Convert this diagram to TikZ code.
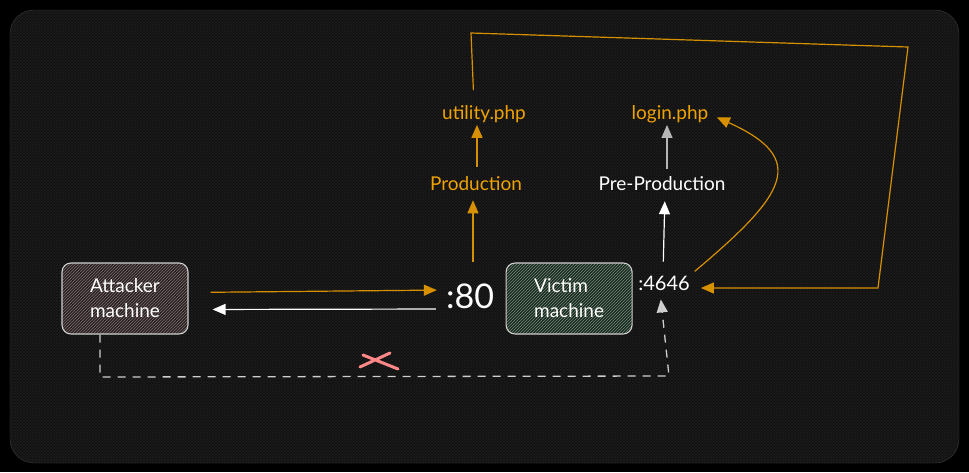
\documentclass[tikz,border=0pt]{standalone}
\usepackage{fontspec}
\setmainfont{Lato}
\usetikzlibrary{positioning,arrows.meta,patterns}
\definecolor{bgdark}{HTML}{111111}
\definecolor{bghatch}{HTML}{1C1C1C}
\definecolor{panelline}{HTML}{3A3A3A}
\definecolor{amber}{RGB}{240,162,0}
\definecolor{amberline}{RGB}{215,145,0}
\definecolor{boxline}{HTML}{CFCFCF}
\definecolor{softgrey}{HTML}{B5B5B5}
\definecolor{redx}{HTML}{FF8787}
\definecolor{attfill}{HTML}{2B2424}
\definecolor{atthatch}{HTML}{7A6A6A}
\definecolor{vicfill}{HTML}{1E2A22}
\definecolor{vichatch}{HTML}{6B8A74}

\begin{document}
\begin{tikzpicture}[x=1pt, y=-1pt, node distance=10pt]
  \tikzset{
    machine/.style={draw=boxline, line width=1.1pt, rounded corners=9pt, minimum width=126pt, minimum height=71pt, align=left, text=white, font=\fontsize{19}{25}\selectfont},
    attbox/.style={preaction={fill=attfill}, pattern=north east lines, pattern color=atthatch},
    vicbox/.style={preaction={fill=vicfill}, pattern=north east lines, pattern color=vichatch},
    port/.style={text=white, inner sep=1pt},
    page/.style={text=amber, font=\fontsize{19}{22}\selectfont, inner sep=1pt},
    amberarrow/.style={draw=amberline, line width=1.2pt, -{Triangle[length=13pt,width=11pt]}},
    whitearrow/.style={draw=white, line width=1.2pt, -{Triangle[length=13pt,width=11pt]}},
    dashline/.style={draw=boxline, line width=1.3pt, dash pattern=on 8pt off 7pt, -{Triangle[length=13pt,width=11pt]}}
  }

  \useasboundingbox (0,0) rectangle (969,472);
  \fill[black] (0,0) rectangle (969,472);
  \draw[panelline, rounded corners=24pt, preaction={fill=bgdark}, preaction={pattern=north east lines, pattern color=bghatch}, pattern=north west lines, pattern color=bghatch] (10,10) rectangle (959,463);

  \node[machine, attbox] (attacker) at (125,298.5) {Attacker\\machine};
  \node[machine, vicbox, right=317pt of attacker] (victim) {Victim\\machine};
  \node[port, font=\fontsize{34}{34}\selectfont] (port80) at (470,296) {:80};
  \node[port, font=\fontsize{20}{20}\selectfont] (port4646) at (664,283) {:4646};
  \node[page] (prod) at (476,184) {Production};
  \node[page, text=white] (preprod) at (662,184) {Pre-Production};
  \node[page] (utility) at (484,114) {utility.php};
  \node[page] (login) at (670,114) {login.php};

  \coordinate (loopA) at (471,33);
  \coordinate (loopB) at (908,47);
  \coordinate (loopC) at (878,288);
  \coordinate (dashA) at (100,377);
  \coordinate (dashB) at (669,376);

  % port 80 traffic
  \draw[amberarrow, shorten <=22pt, shorten >=8pt] ([yshift=6pt]attacker.east) -- ([yshift=6pt]port80.west);
  \draw[whitearrow, shorten <=9pt, shorten >=24pt] ([yshift=-13pt]port80.west) -- ([yshift=-11pt]attacker.east);

  \draw[amberarrow, shorten <=20pt, shorten >=8pt] ([xshift=3pt]port80.north) -- ([xshift=-3pt]prod.south);
  \draw[amberarrow, shorten <=9pt, shorten >=1pt] ([xshift=1pt]prod.north) -- ([xshift=-7pt]utility.south);

  % port 4646
  \draw[whitearrow, shorten <=13pt, shorten >=9pt] ([xshift=-1pt]port4646.north) -- ([xshift=3pt]preprod.south);
  \draw[whitearrow, draw=softgrey, shorten <=7pt, shorten >=1pt] ([xshift=5pt]preprod.north) -- ([xshift=-3pt]login.south);
  \draw[amberarrow, shorten <=5pt, shorten >=8pt] (port4646.north east) .. controls +(95,-80) and +(100,45) .. (login.east);

  \draw[amberarrow, shorten <=14pt, shorten >=10pt] ([xshift=-10pt]utility.north) -- (loopA) -- (loopB) -- (loopC) -- ([yshift=-5pt]port4646.east);

  % blocked direct path
  \draw[dashline, shorten >=8pt] ([xshift=-25pt]attacker.south) -- (dashA) -- (dashB) -- ([xshift=-4pt]port4646.south);
  \draw[redx, line width=3pt, line cap=round] (363,355) -- (398,369) (390,353) -- (360,367);
\end{tikzpicture}
\end{document}
